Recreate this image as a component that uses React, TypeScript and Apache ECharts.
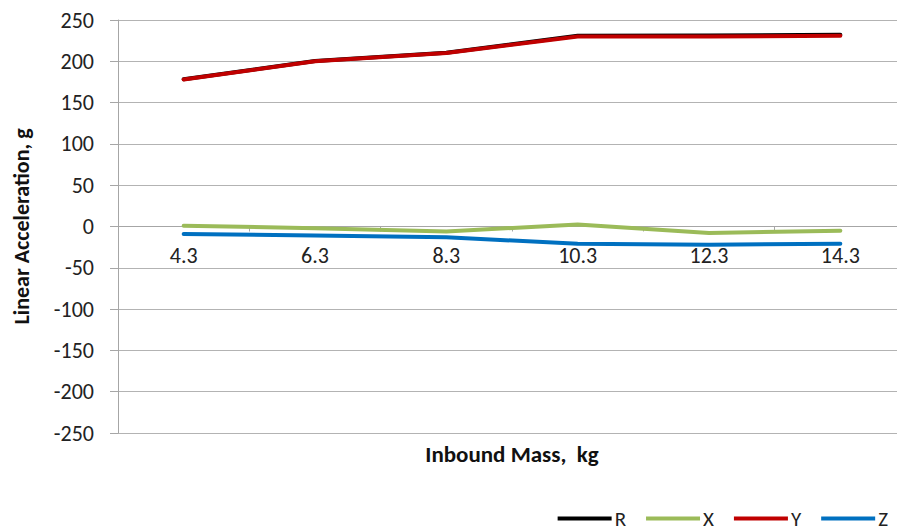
import React, { useEffect, useRef } from "react";
import * as echarts from "echarts";

// Inbound mass (kg) on the category axis
const massLabels = ["4.3", "6.3", "8.3", "10.3", "12.3", "14.3"];

// Peak linear acceleration (g) per component
const rValues = [178.3, 200.4, 210.3, 231.0, 231.1, 232.0];
const xValues = [1, -2, -6, 2.5, -8, -5];
const yValues = [178, 200, 210, 230, 230, 231];
const zValues = [-9, -11, -13, -21, -22, -21];

const seriesNames = ["R", "X", "Y", "Z"];
const seriesColors = ["#000000", "#9BBB59", "#C00000", "#0070C0"];

const FONT = "Calibri, Carlito, Lato, 'Liberation Sans', Arial, sans-serif";

// Plot box in pixels; the category axis sits on the zero line
const GRID_TOP = 20;
const GRID_BOTTOM = 99;
const CHART_H = 532;
const Y_MIN = -250;
const Y_MAX = 250;
const plotH = CHART_H - GRID_TOP - GRID_BOTTOM;
const zeroFromBottom = ((0 - Y_MIN) / (Y_MAX - Y_MIN)) * plotH;

export default function App() {
  const ref = useRef<HTMLDivElement>(null);

  useEffect(() => {
    if (!ref.current) return;
    const chart = echarts.init(ref.current, undefined, { renderer: "svg" });
    const data = [rValues, xValues, yValues, zValues];

    chart.setOption({
      animation: false,
      backgroundColor: "#ffffff",
      textStyle: { fontFamily: FONT },
      grid: {
        left: 118,
        right: -9,
        top: GRID_TOP,
        bottom: GRID_BOTTOM,
        containLabel: false,
        outerBoundsMode: "none",
      },
      legend: {
        right: 4,
        top: 503,
        icon: "rect",
        itemWidth: 54,
        itemHeight: 4,
        itemGap: 20,
        textStyle: { fontFamily: FONT, fontSize: 21, color: "#222", padding: [0, 0, 0, -2] },
        data: seriesNames,
      },
      xAxis: {
        type: "category",
        data: massLabels,
        boundaryGap: true,
        position: "bottom",
        offset: -zeroFromBottom,
        name: "Inbound Mass,  kg",
        nameLocation: "middle",
        nameGap: 216,
        nameTextStyle: {
          fontFamily: FONT,
          fontSize: 23,
          fontWeight: "bold",
          color: "#111",
        },
        axisLine: { onZero: false, lineStyle: { color: "#a6a6a6", width: 1 } },
        axisTick: { show: true, length: 5, lineStyle: { color: "#a6a6a6" } },
        axisLabel: { fontFamily: FONT, fontSize: 22, color: "#222", margin: 18 },
        splitLine: { show: false },
      },
      yAxis: {
        type: "value",
        min: Y_MIN,
        max: Y_MAX,
        interval: 50,
        name: "Linear Acceleration, g",
        nameLocation: "middle",
        nameGap: 86,
        nameRotate: 90,
        nameTextStyle: { fontFamily: FONT, fontSize: 22, fontWeight: "bold", color: "#111" },
        axisLine: { show: true, lineStyle: { color: "#a6a6a6", width: 1 } },
        axisTick: { show: true, length: 8, lineStyle: { color: "#a6a6a6" } },
        axisLabel: { fontFamily: FONT, fontSize: 22, color: "#222", margin: 24 },
        splitLine: { show: true, lineStyle: { color: "#b3b3b3", width: 1 } },
      },
      series: seriesNames.map((name, i) => ({
        name,
        type: "line",
        data: data[i],
        symbol: "none",
        showSymbol: false,
        lineStyle: { color: seriesColors[i], width: 4, cap: "round", join: "round" },
        itemStyle: { color: seriesColors[i] },
        z: i + 2,
      })),
    });

    return () => chart.dispose();
  }, []);

  return (
    <div
      ref={ref}
      style={{ position: "fixed", left: 0, top: 0, width: 897, height: 532 }}
    />
  );
}
